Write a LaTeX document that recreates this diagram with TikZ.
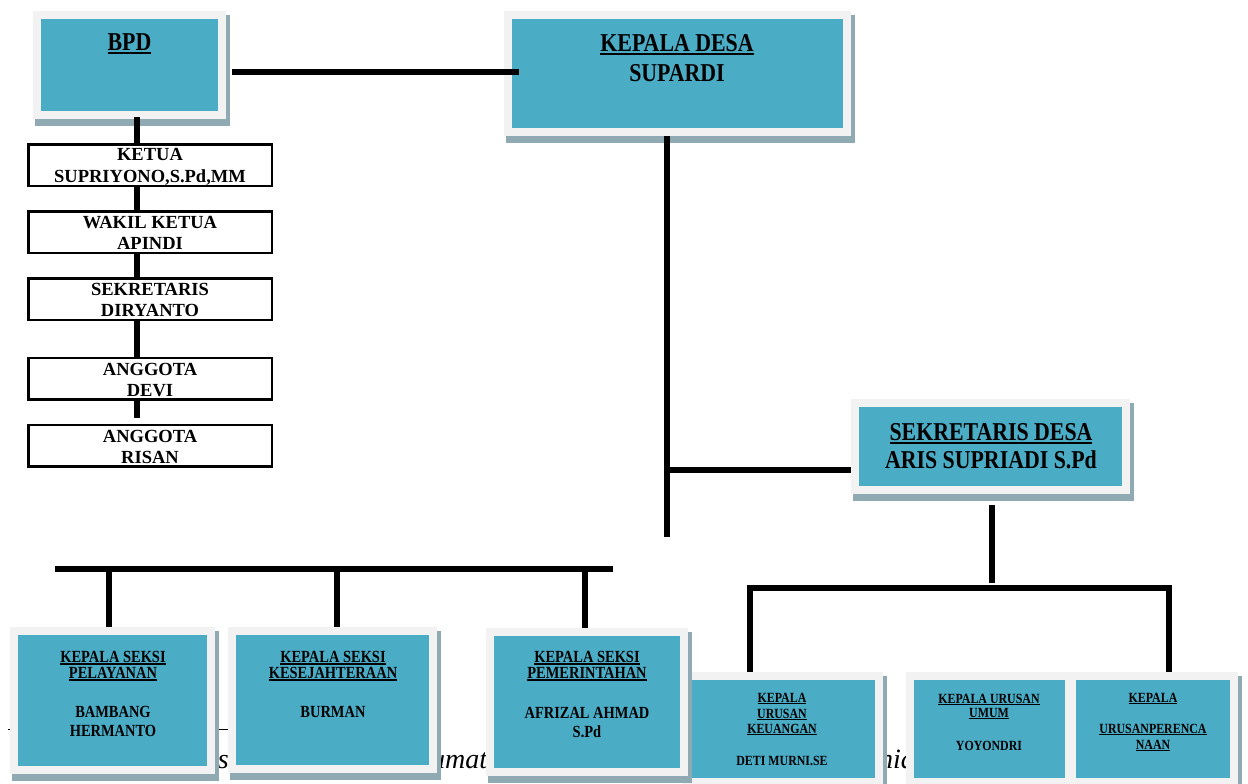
\documentclass[tikz,border=0pt]{standalone}
\usepackage{fontspec}
\setmainfont{Liberation Serif}
\newfontfamily\camb[FakeStretch=0.85]{Liberation Serif}
\definecolor{boxblue}{HTML}{4BACC6}
\definecolor{framegray}{HTML}{F2F2F2}
\definecolor{shadowc}{HTML}{8FAAB2}
\newcommand\uln[1]{\setbox0\hbox{#1}\rlap{\rule[-0.13em]{\wd0}{0.075em}}\box0}
\newcommand\bbx[5]{%
  \fill[shadowc] ({#2-#4/2+2},{#3-#5/2+4}) rectangle ({#2+#4/2+3.5},{#3+#5/2+7});
  \node[bbox, minimum width={#4-8}, minimum height={#5-8}] (#1) at (#2,#3) {};
}
\tikzset{
  bbox/.style={fill=boxblue, draw=framegray, line width=8pt, inner sep=0pt},
  wbox/.style={draw=black, line width=2.5pt, fill=white, minimum width=243.5pt,
    minimum height=41.5pt, inner sep=0pt, align=center,
    font=\bfseries\fontsize{18.5}{21.5}\selectfont},
  wtxt/.style={align=center, inner sep=0pt, font=\bfseries\fontsize{18.5}{21.5}\selectfont},
  big/.style={align=center, inner sep=0pt, font=\camb\bfseries\fontsize{25.7}{30}\selectfont},
  mid/.style={align=center, inner sep=0pt, font=\camb\bfseries\fontsize{17}{19}\selectfont},
  sml/.style={align=center, inner sep=0pt, font=\camb\bfseries\fontsize{14}{15.5}\selectfont},
  bgtxt/.style={inner sep=0pt, font=\itshape\fontsize{28}{30}\selectfont},
  conn/.style={draw=black, line width=5.5pt},
  thick conn/.style={draw=black, line width=6pt}
}
\begin{document}
\begin{tikzpicture}[x=1pt,y=-1pt]
\useasboundingbox (0,0) rectangle (1248,784);
\clip (0,0) rectangle (1248,784);
\fill[white] (0,0) rectangle (1248,784);

% background caption fragments
\coordinate (tl1) at (8,729);
\coordinate (tl2) at (229,729);
\draw[line width=0.9pt] (tl1) -- (tl2);
\node[bgtxt, anchor=base east] (f1) at (229,768) {es};
\node[bgtxt, anchor=base west] (f2) at (431,768) {umat};
\node[bgtxt, anchor=base west] (f4) at (879,768) {nia};

% right bottom boxes (drawn first)
\bbx{keu}{782.5}{729}{201}{114}
\bbx{umu}{989.5}{729}{167}{114}
\bbx{per}{1153}{729}{170}{114}

% top boxes
\bbx{bpd}{129.5}{65}{193}{108}
\bbx{kd}{677.5}{73.5}{347}{125}
\bbx{sekr}{990.5}{446.5}{279}{95}

% bottom left boxes
\bbx{pel}{112.5}{700.5}{205}{147}
\bbx{kes}{332.5}{700}{209}{146}
\bbx{pem}{587}{702}{202}{148}

% texts in blue boxes
\node[big] (bpdt) at (129.5,44) {\uln{BPD}};
\node[big] (kdt) at (677,58) {\uln{KEPALA DESA}\\SUPARDI};
\node[big, font=\camb\bfseries\fontsize{25.7}{28}\selectfont] (sekrt) at (991,446) {\uln{SEKRETARIS DESA}\\ARIS SUPRIADI S.Pd};
\node[mid] (pelt) at (113,694) {\uln{KEPALA SEKSI}\\[-3pt]\uln{PELAYANAN}\\[20pt]BAMBANG\\HERMANTO};
\node[mid] (kest) at (333,684.5) {\uln{KEPALA SEKSI}\\[-3pt]\uln{KESEJAHTERAAN}\\[20pt]BURMAN};
\node[mid] (pemt) at (587,694.5) {\uln{KEPALA SEKSI}\\[-3pt]\uln{PEMERINTAHAN}\\[21pt]AFRIZAL AHMAD\\S.Pd};
\node[sml] (keut) at (782,729.5) {\uln{KEPALA}\\\uln{URUSAN}\\\uln{KEUANGAN}\\[16.5pt]DETI MURNI.SE};
\node[sml, font=\camb\bfseries\fontsize{14}{14}\selectfont] (umut) at (989,722.5) {\uln{KEPALA URUSAN}\\\uln{UMUM}\\[19pt]YOYONDRI};
\node[sml, font=\camb\bfseries\fontsize{14}{16}\selectfont] (pert) at (1153,722) {\uln{KEPALA}\\[15pt]\uln{URUSANPERENCA}\\\uln{NAAN}};

% BPD members
\node[wbox] (ket) at (150,165) {};
\node[wbox] (wak) at (150,232) {};
\node[wbox] (sek) at (150,299) {};
\node[wbox] (dev) at (150,378.5) {};
\node[wbox] (ris) at (150,445.5) {};
\node[wtxt] (kett) at (150,167) {KETUA\\SUPRIYONO,S.Pd,MM};
\node[wtxt] (wakt) at (150,233) {WAKIL KETUA\\APINDI};
\node[wtxt] (sekt) at (150,300) {SEKRETARIS\\DIRYANTO};
\node[wtxt] (devt) at (150,380) {ANGGOTA\\DEVI};
\node[wtxt] (rist) at (150,447) {ANGGOTA\\RISAN};

% connectors
\coordinate (lx) at (137,0);
\draw[conn] ([yshift=2pt]bpd.south -| lx) -- (ket.north -| lx);
\draw[conn] (ket.south -| lx) -- (wak.north -| lx);
\draw[conn] (wak.south -| lx) -- (sek.north -| lx);
\draw[conn] (sek.south -| lx) -- (dev.north -| lx);
\draw[conn, shorten >=6pt] (dev.south -| lx) -- (ris.north -| lx);

\coordinate (hy) at (0,72);
\draw[thick conn, shorten <=6pt, shorten >=-15pt] (bpd.east |- hy) -- (kd.west |- hy);

\coordinate (kend) at (667,537);
\draw[conn] (kd.south -| kend) -- (kend);
\coordinate (kb) at (667,470);
\draw[conn] (kb) -- (sekr.west |- kb);

\coordinate (busL) at (55,569);
\coordinate (busR) at (613,569);
\draw[thick conn] (busL) -- (busR);
\coordinate (d1) at (109,569);
\coordinate (d2) at (337,569);
\coordinate (d3) at (585,569);
\draw[conn] (d1) -- (d1 |- pel.north);
\draw[conn] (d2) -- (d2 |- kes.north);
\draw[conn] (d3) -- (d3 |- pem.north);

\coordinate (sb) at (992,588);
\draw[conn, shorten <=11pt, shorten >=5pt] (sekr.south -| sb) -- (sb);
\coordinate (bl) at (750,588);
\coordinate (br) at (1169,588);
\draw[conn, line join=miter] (bl |- keu.north) -- (bl) -- (br) -- (br |- per.north);
\end{tikzpicture}
\end{document}
